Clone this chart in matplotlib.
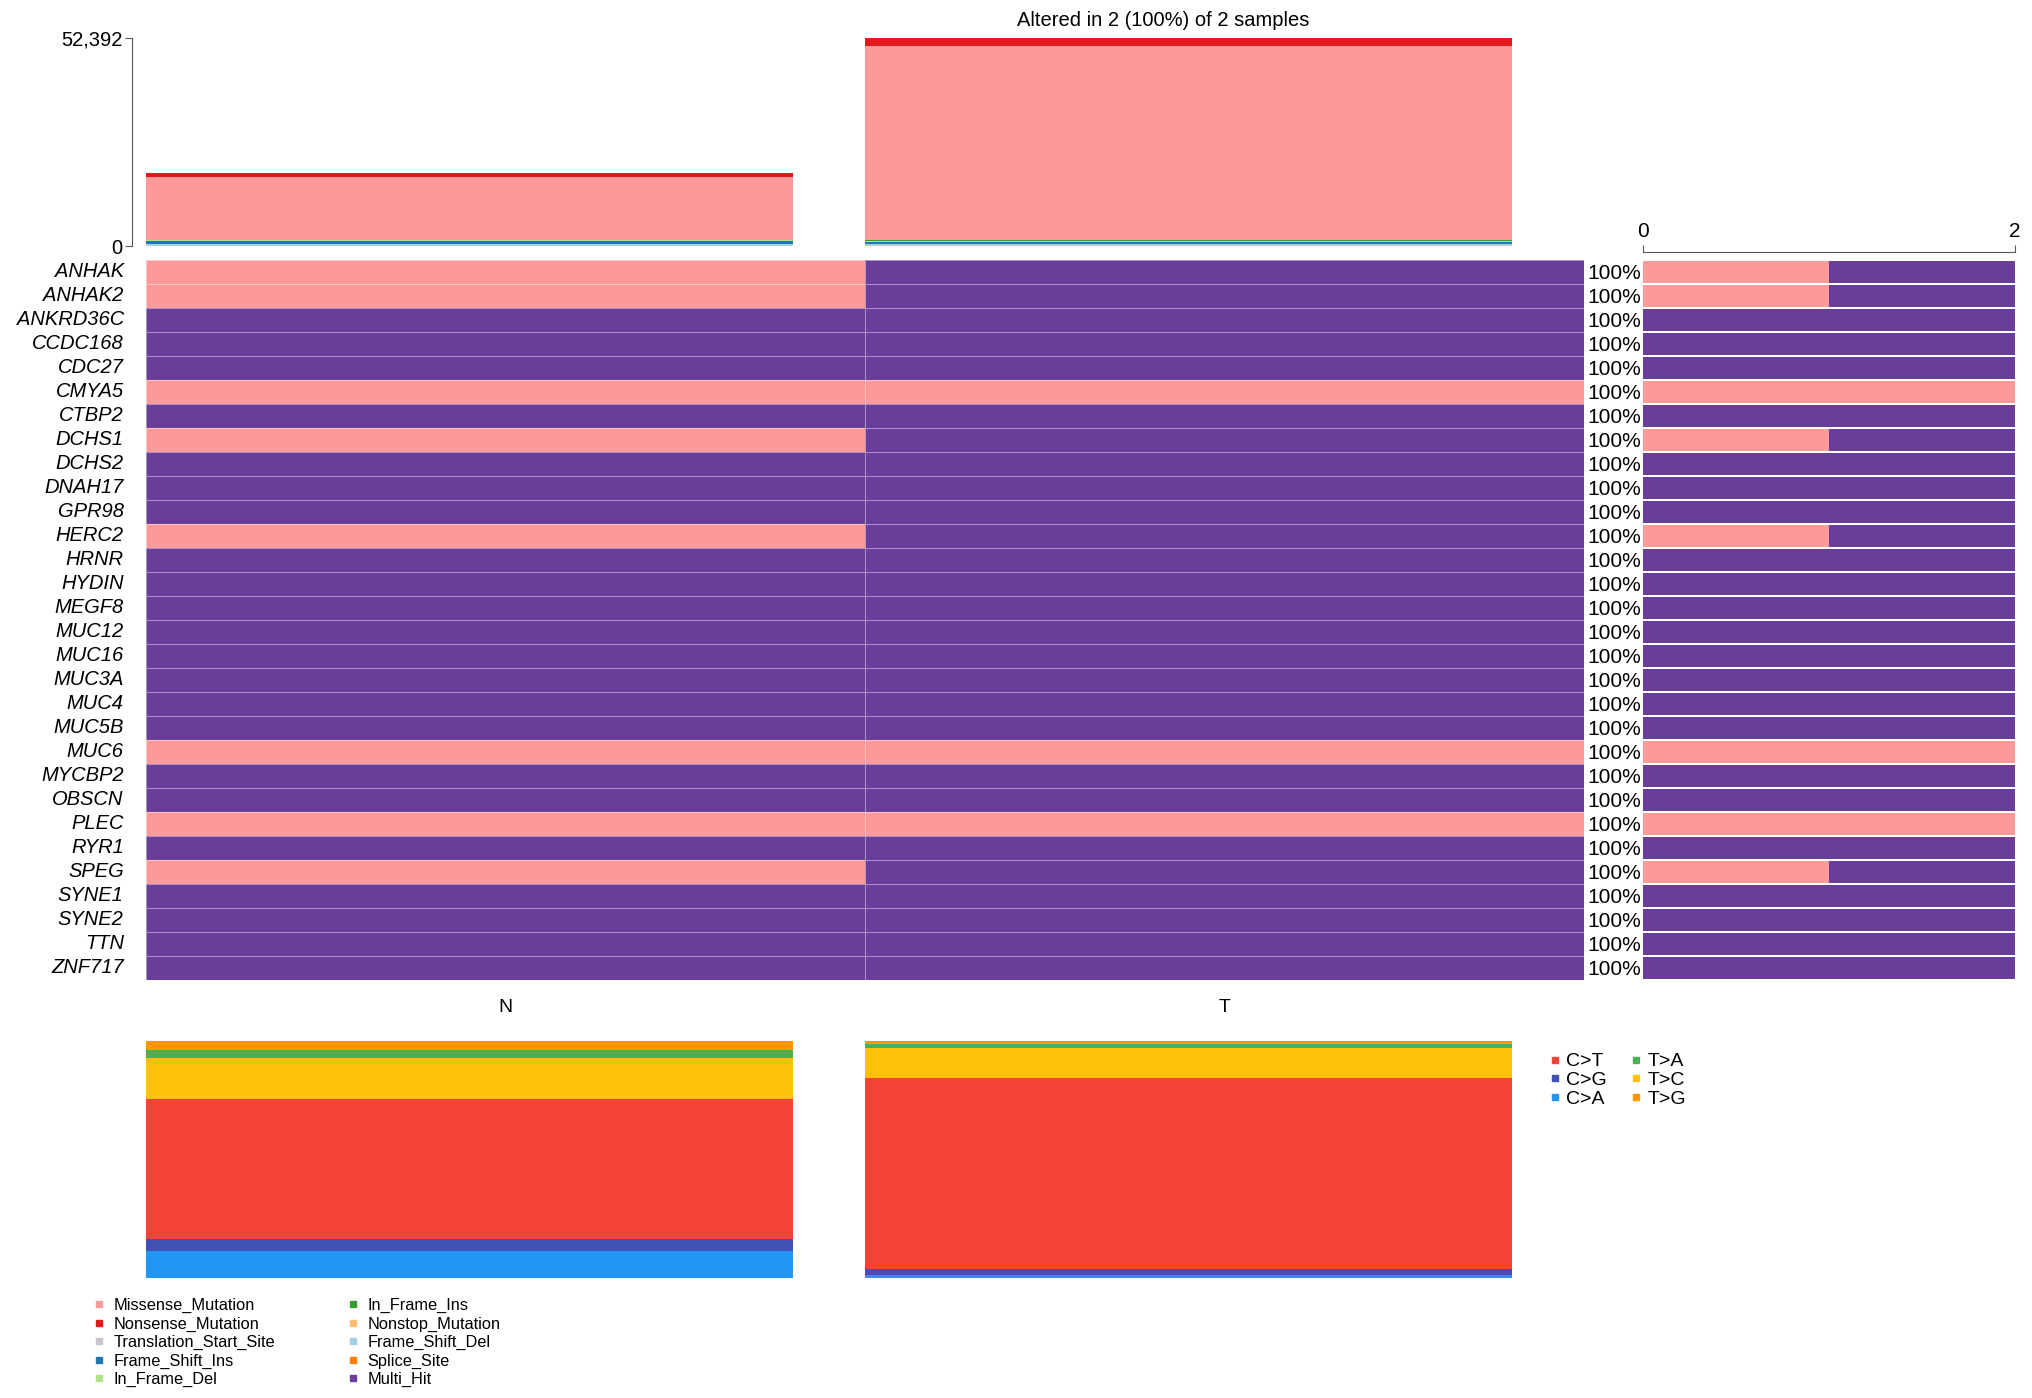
import numpy as np
import matplotlib
matplotlib.use("Agg")
import matplotlib.pyplot as plt
from matplotlib.colors import ListedColormap
from matplotlib.lines import Line2D

plt.rcParams['font.family'] = ['Liberation Sans', 'DejaVu Sans']

samples = ["N", "T"]
genes = ["ANHAK", "ANHAK2", "ANKRD36C", "CCDC168", "CDC27", "CMYA5", "CTBP2",
         "DCHS1", "DCHS2", "DNAH17", "GPR98", "HERC2", "HRNR", "HYDIN", "MEGF8",
         "MUC12", "MUC16", "MUC3A", "MUC4", "MUC5B", "MUC6", "MYCBP2", "OBSCN",
         "PLEC", "RYR1", "SPEG", "SYNE1", "SYNE2", "TTN", "ZNF717"]
# 0 = Missense_Mutation, 1 = Multi_Hit ; columns N, T
onco_N = [0, 0, 1, 1, 1, 0, 1, 0, 1, 1, 1, 0, 1, 1, 1, 1, 1, 1, 1, 1, 0, 1, 1, 0, 1, 0, 1, 1, 1, 1]
onco_T = [1, 1, 1, 1, 1, 0, 1, 1, 1, 1, 1, 1, 1, 1, 1, 1, 1, 1, 1, 1, 0, 1, 1, 0, 1, 1, 1, 1, 1, 1]

# variants per sample (top bar)
tmb_types = ["Frame_Shift_Del", "Frame_Shift_Ins", "In_Frame_Del", "In_Frame_Ins",
             "Missense_Mutation", "Nonsense_Mutation"]
tmb_N = [500, 700, 200, 150, 15800, 1100]
tmb_T = [500, 600, 250, 150, 48900, 1992]

# Ti/Tv fraction (%) per sample, stacked from bottom
titv_types = ["C>A", "C>G", "C>T", "T>C", "T>A", "T>G"]
titv_N = [11.4, 4.9, 59.2, 17.3, 3.4, 3.8]
titv_T = [1.1, 2.8, 80.4, 12.9, 1.7, 1.1]

vc_col = {"Missense_Mutation": "#FB9A99", "Nonsense_Mutation": "#E31A1C",
          "Translation_Start_Site": "#C9C3CF", "Frame_Shift_Ins": "#1F78B4",
          "In_Frame_Del": "#B2DF8A", "In_Frame_Ins": "#33A02C",
          "Nonstop_Mutation": "#FDBF6F", "Frame_Shift_Del": "#A6CEE3",
          "Splice_Site": "#FF7F00", "Multi_Hit": "#6A3D9A"}
titv_col = {"C>T": "#F44336", "C>G": "#3F51B5", "C>A": "#2196F3",
            "T>A": "#4CAF50", "T>C": "#FFC107", "T>G": "#FF9800"}

W, H = 2032, 1398
fig = plt.figure(figsize=(W / 100, H / 100), dpi=100)


def box(x0, y0, x1, y1):
    return [x0 / W, 1 - y1 / H, (x1 - x0) / W, (y1 - y0) / H]


# --- top: variants per sample
ax_top = fig.add_axes(box(146, 38, 1584, 246))
for s in ["top", "right", "bottom"]:
    ax_top.spines[s].set_visible(False)
ax_top.spines["left"].set_position(("outward", 10))
ax_top.spines["left"].set_color("#555555")
bottom = np.zeros(2)
for i, t in enumerate(tmb_types):
    v = np.array([tmb_N[i], tmb_T[i]])
    ax_top.bar([0, 1], v, width=0.9, align='edge', bottom=bottom, color=vc_col[t], linewidth=0)
    bottom += v
ymax = bottom.max()
ax_top.set_xlim(0, 2)
ax_top.set_ylim(0, ymax)
ax_top.set_yticks([0, ymax])
ax_top.set_yticklabels(["0", f"{int(ymax):,}"])
ax_top.set_xticks([])
ax_top.tick_params(axis='y', length=5, color="#555555", pad=2, labelsize=14.5)

mat = np.array([onco_N, onco_T]).T
n_alt = int((mat >= 0).any(axis=0).sum())
fig.text(1163 / W, 1 - 21 / H, f"Altered in {n_alt} ({100 * n_alt // len(samples)}%) of {len(samples)} samples",
         ha='center', va='center', fontsize=14.5)

# --- oncoplot matrix
ax_hm = fig.add_axes(box(146, 260, 1584, 980))
cmap = ListedColormap([vc_col["Missense_Mutation"], vc_col["Multi_Hit"]])
ax_hm.pcolormesh(np.arange(3), np.arange(len(genes) + 1), mat, cmap=cmap, vmin=0, vmax=1,
                 edgecolor=(1, 1, 1, 0.45), linewidth=0.6)
ax_hm.set_xlim(0, 2)
ax_hm.set_ylim(len(genes), 0)
ax_hm.set_yticks(np.arange(len(genes)) + 0.4)
ax_hm.set_yticklabels(genes, style='italic')
ax_hm.tick_params(axis='y', length=0, pad=16, labelsize=14.5)
ax_hm.set_xticks(np.arange(2) + 0.5)
ax_hm.set_xticklabels(samples)
ax_hm.tick_params(axis='x', length=0, pad=14, labelsize=14)
for s in ax_hm.spines.values():
    s.set_visible(False)

for i, g in enumerate(genes):
    pct = 100 * (mat[i] >= 0).sum() / len(samples)
    fig.text(1587 / W, 1 - (260 + (i + 0.55) * 720 / len(genes)) / H, f"{pct:.0f}%",
             ha='left', va='center', fontsize=15)

# --- right: per gene counts
ax_r = fig.add_axes(box(1643, 260, 2015, 980))
for s in ["right", "bottom", "left"]:
    ax_r.spines[s].set_visible(False)
ax_r.spines["top"].set_position(("outward", 6))
ax_r.spines["top"].set_color("#555555")
y = np.arange(len(genes)) + 0.5
n_mis = (mat == 0).sum(axis=1)
n_mh = (mat == 1).sum(axis=1)
ax_r.barh(y, n_mis, height=0.88, color=vc_col["Missense_Mutation"], linewidth=0)
ax_r.barh(y, n_mh, left=n_mis, height=0.88, color=vc_col["Multi_Hit"], linewidth=0)
ax_r.set_xlim(0, 2)
ax_r.set_ylim(len(genes), 0)
ax_r.set_yticks([])
ax_r.xaxis.tick_top()
ax_r.set_xticks([0, 2])
ax_r.set_xticklabels(["0", "2"])
ax_r.tick_params(axis='x', length=5, color="#555555", pad=3, labelsize=15)

# --- bottom: Ti/Tv
ax_b = fig.add_axes(box(146, 1041, 1584, 1278))
bottom = np.zeros(2)
for i, t in enumerate(titv_types):
    v = np.array([titv_N[i], titv_T[i]])
    ax_b.bar([0, 1], v, width=0.9, align='edge', bottom=bottom, color=titv_col[t], linewidth=0)
    bottom += v
ax_b.set_xlim(0, 2)
ax_b.set_ylim(0, bottom.max())
ax_b.axis('off')

titv_order = ["C>T", "C>G", "C>A", "T>A", "T>C", "T>G"]
h_titv = [Line2D([], [], marker='s', linestyle='', markersize=5, color=titv_col[t]) for t in titv_order]
fig.legend(h_titv, titv_order, loc='upper left', bbox_to_anchor=(1539 / W, 1 - 1043 / H),
           ncol=2, frameon=False, fontsize=14, handlelength=0.6, handletextpad=0.3,
           columnspacing=1.2, labelspacing=0.05, borderpad=0)

vc_order = ["Missense_Mutation", "Nonsense_Mutation", "Translation_Start_Site",
            "Frame_Shift_Ins", "In_Frame_Del", "In_Frame_Ins", "Nonstop_Mutation",
            "Frame_Shift_Del", "Splice_Site", "Multi_Hit"]
h_vc = [Line2D([], [], marker='s', linestyle='', markersize=4.5, color=vc_col[t]) for t in vc_order]
fig.legend(h_vc, vc_order, loc='upper left', bbox_to_anchor=(86 / W, 1 - 1290 / H),
           ncol=2, frameon=False, fontsize=11.8, handlelength=0.6, handletextpad=0.6,
           columnspacing=4.4, labelspacing=0.2, borderpad=0)

fig.savefig("out.png", dpi=100)
